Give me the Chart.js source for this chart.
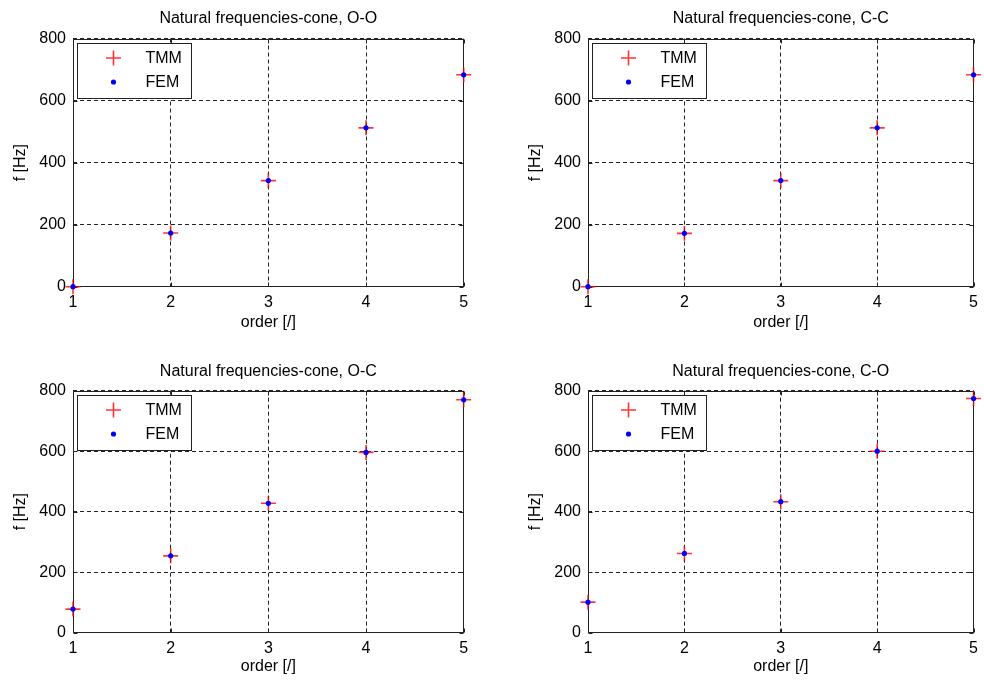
<!DOCTYPE html>
<html>
<head>
<meta charset="utf-8">
<script src="https://cdn.jsdelivr.net/npm/chart.js@4.4.1/dist/chart.umd.min.js"></script>
<style>
  html, body { margin: 0; padding: 0; background: #fff; overflow: hidden; width: 984px; height: 684px; }
  .cell { position: absolute; }
</style>
</head>
<body>
<div class="cell" style="left:0;top:0;width:490px;height:342px"><canvas id="c0"></canvas></div>
<div class="cell" style="left:515px;top:0;width:469px;height:342px"><canvas id="c1"></canvas></div>
<div class="cell" style="left:0;top:342px;width:490px;height:342px"><canvas id="c2"></canvas></div>
<div class="cell" style="left:515px;top:342px;width:469px;height:342px"><canvas id="c3"></canvas></div>
<script>
// data
const orders = [1, 2, 3, 4, 5];
const xTicks = [1, 2, 3, 4, 5];
const yTicks = [0, 200, 400, 600, 800];
const seriesNames = ["TMM", "FEM"];
const panelTitles = [
  "Natural frequencies-cone, O-O",
  "Natural frequencies-cone, C-C",
  "Natural frequencies-cone, O-C",
  "Natural frequencies-cone, C-O"
];
const tmmOO = [0, 173, 342, 512, 683];
const femOO = [0, 173, 342, 512, 683];
const tmmCC = [0, 172, 342, 512, 683];
const femCC = [0, 172, 342, 512, 683];
const tmmOC = [78, 254, 428, 596, 770];
const femOC = [78, 254, 428, 596, 770];
const tmmCO = [101, 262, 433, 600, 774];
const femCO = [101, 262, 433, 600, 774];

const FONT = "'Liberation Sans', Arial, sans-serif";
Chart.defaults.font.family = FONT;
Chart.defaults.font.size = 16;
Chart.defaults.color = "#000";
Chart.defaults.animation = false;

// title centred over the plot box (not the whole canvas)
const panelTitle = {
  id: "panelTitle",
  afterDraw(chart, args, opts) {
    const { ctx, chartArea: a } = chart;
    ctx.save();
    ctx.fillStyle = "#000";
    ctx.font = "16px " + FONT;
    ctx.textAlign = "center";
    ctx.textBaseline = "middle";
    ctx.fillText(opts.text, (a.left + a.right) / 2, opts.y);
    ctx.restore();
  }
};

// MATLAB style box with inward ticks
const axesBox = {
  id: "axesBox",
  beforeDatasetsDraw(chart) {
    const { ctx, chartArea: a, scales } = chart;
    const l = Math.round(a.left) + 0.5, r = Math.round(a.right) - 0.5;
    const t = Math.round(a.top) + 0.5, b = Math.round(a.bottom) - 0.5;
    ctx.save();
    ctx.strokeStyle = "#222";
    ctx.lineWidth = 1;
    ctx.strokeRect(l, t, r - l, b - t);
    ctx.beginPath();
    xTicks.forEach((v) => {
      const px = Math.round(scales.x.getPixelForValue(v)) + 0.5;
      ctx.moveTo(px, t); ctx.lineTo(px, t + 4);
      ctx.moveTo(px, b); ctx.lineTo(px, b - 4);
    });
    yTicks.forEach((v) => {
      const py = Math.round(scales.y.getPixelForValue(v)) + 0.5;
      ctx.moveTo(l, py); ctx.lineTo(l + 4, py);
      ctx.moveTo(r, py); ctx.lineTo(r - 4, py);
    });
    ctx.stroke();
    ctx.restore();
  }
};

// boxed legend inside the top-left corner of the plot
const boxLegend = {
  id: "boxLegend",
  afterDatasetsDraw(chart) {
    const { ctx, chartArea: a } = chart;
    const x = Math.round(a.left) + 4.5, y = Math.round(a.top) + 4.5;
    const w = 114, h = 55;
    ctx.save();
    ctx.fillStyle = "#fff";
    ctx.fillRect(x, y, w, h);
    ctx.strokeStyle = "#222";
    ctx.lineWidth = 1;
    ctx.strokeRect(x, y, w, h);
    const items = chart.data.datasets.slice().reverse(); // TMM first
    items.forEach((ds, i) => {
      const cx = x + 36, cy = y + 14.5 + i * 24;
      if (ds.pointStyle === "cross") {
        ctx.strokeStyle = ds.borderColor;
        ctx.lineWidth = ds.borderWidth;
        ctx.beginPath();
        ctx.moveTo(cx - ds.pointRadius, cy); ctx.lineTo(cx + ds.pointRadius, cy);
        ctx.moveTo(cx, cy - ds.pointRadius); ctx.lineTo(cx, cy + ds.pointRadius);
        ctx.stroke();
      } else {
        ctx.fillStyle = ds.backgroundColor;
        ctx.beginPath();
        ctx.arc(cx, cy, ds.pointRadius, 0, Math.PI * 2);
        ctx.fill();
      }
      ctx.fillStyle = "#000";
      ctx.font = "16px " + FONT;
      ctx.textBaseline = "middle";
      ctx.textAlign = "left";
      ctx.fillText(ds.label, x + 68, cy + 1);
    });
    ctx.restore();
  }
};

const toPoints = (vals) => orders.map((o, i) => ({ x: o, y: vals[i] }));

function makePanel(id, title, tmm, fem, geo) {
  const ctx = document.getElementById(id).getContext("2d");
  return new Chart(ctx, {
    type: "scatter",
    data: {
      datasets: [
        {
          label: seriesNames[1],
          data: toPoints(fem),
          pointStyle: "circle",
          pointRadius: 2.6,
          backgroundColor: "#0000ff",
          borderColor: "#0000ff",
          borderWidth: 0,
          clip: false
        },
        {
          label: seriesNames[0],
          data: toPoints(tmm),
          pointStyle: "cross",
          pointRadius: 7.5,
          backgroundColor: "rgba(0,0,0,0)",
          borderColor: "rgba(255,0,0,0.8)",
          borderWidth: 1.6,
          clip: false
        }
      ]
    },
    options: {
      responsive: true,
      maintainAspectRatio: false,
      events: [],
      layout: { padding: { left: 0, top: geo.top, bottom: 0, right: geo.padRight } },
      plugins: {
        legend: { display: false },
        tooltip: { enabled: false },
        title: { display: false },
        panelTitle: { text: title, y: geo.titleY }
      },
      scales: {
        x: {
          type: "linear",
          min: 1,
          max: 5,
          afterBuildTicks: (s) => { s.ticks = xTicks.map((v) => ({ value: v })); },
          afterFit: (s) => { s.height = geo.xHeight; },
          ticks: { padding: 6, font: { size: 16 }, color: "#000", maxRotation: 0 },
          grid: { color: "#222", lineWidth: 1, drawTicks: false },
          border: { display: false, dash: [4, 3] },
          title: { display: true, text: "order [/]", font: { size: 16 }, color: "#000", padding: { top: 0, bottom: geo.xTitleBottom } }
        },
        y: {
          type: "linear",
          min: 0,
          max: 800,
          afterBuildTicks: (s) => { s.ticks = yTicks.map((v) => ({ value: v })); },
          afterFit: (s) => { s.width = 73; },
          ticks: { padding: 7, font: { size: 16 }, color: "#000" },
          grid: { color: "#222", lineWidth: 1, drawTicks: false },
          border: { display: false, dash: [4, 3] },
          title: { display: true, text: "f [Hz]", font: { size: 16 }, color: "#000", padding: { top: 10.5, bottom: 0 } }
        }
      }
    },
    plugins: [axesBox, boxLegend, panelTitle]
  });
}

const topGeo = { top: 38.5, titleY: 19, xHeight: 55.3, xTitleBottom: 9.4 };
const botGeo = { top: 48.7, titleY: 30, xHeight: 51.3, xTitleBottom: 7.4 };

makePanel("c0", panelTitles[0], tmmOO, femOO, { ...topGeo, padRight: 26.3 });
makePanel("c1", panelTitles[1], tmmCC, femCC, { ...topGeo, padRight: 4 });
makePanel("c2", panelTitles[2], tmmOC, femOC, { ...botGeo, padRight: 26.3 });
makePanel("c3", panelTitles[3], tmmCO, femCO, { ...botGeo, padRight: 4 });
</script>
</body>
</html>
